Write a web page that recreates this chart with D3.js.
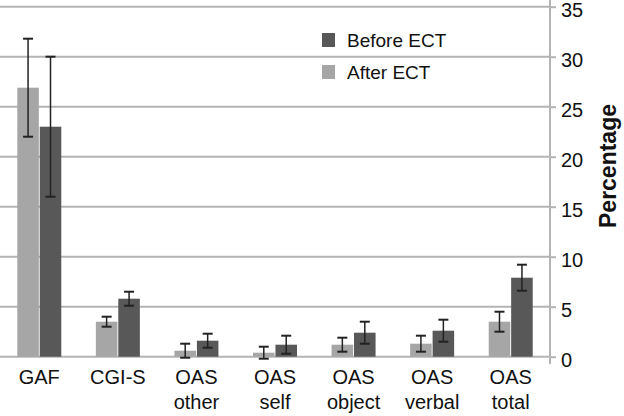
<!DOCTYPE html>
<html lang="en">
<head>
    <meta charset="UTF-8">
    <title>ECT bars</title>
    <script src="https://d3js.org/d3.v7.min.js"></script>
    <style>
        body { margin: 0; background: #fff; }
        text { font-family: 'Liberation Sans', Arial, sans-serif; fill: #111; }
    </style>
</head>
<body>
<script>
    const width  = 624;
    const height = 416;

    const categories = [["GAF"], ["CGI-S"], ["OAS", "other"], ["OAS", "self"], ["OAS", "object"], ["OAS", "verbal"], ["OAS", "total"]];
    const afterValues  = [26.9, 3.5, 0.6, 0.4, 1.2, 1.3, 3.5];
    const afterErrors  = [4.9, 0.5, 0.7, 0.6, 0.7, 0.8, 1.0];
    const beforeValues = [23.0, 5.8, 1.6, 1.2, 2.4, 2.6, 7.9];
    const beforeErrors = [7.0, 0.7, 0.7, 0.9, 1.1, 1.1, 1.3];
    const yTicks = [0, 5, 10, 15, 20, 25, 30, 35];

    const lightGrey = "#a6a6a6";
    const darkGrey  = "#585858";

    const svg = d3.select("body").append("svg").attr("width", width).attr("height", height);

    const x = d3.scaleBand()
                .domain(d3.range(categories.length))
                .range([0, 550])
                .paddingInner(0.44)
                .paddingOuter(0.22);

    const sub = d3.scaleBand()
                .domain(["after", "before"])
                .range([0, x.bandwidth()])
                .paddingInner(0.04);

    const y = d3.scaleLinear()
                .domain([0, 35])
                .range([356.7, 6.7]);

    // gridlines
    svg.selectAll(".grid")
        .data(yTicks)
        .enter().append("line")
        .attr("x1", 0).attr("x2", 550)
        .attr("y1", d => y(d)).attr("y2", d => y(d))
        .attr("stroke", "#b4b4b4")
        .attr("stroke-width", 2);

    // right axis
    const axis = svg.append("g")
        .attr("transform", "translate(550,0)")
        .call(d3.axisRight(y).tickValues(yTicks).tickSize(6).tickPadding(5));
    axis.select(".domain").attr("stroke", "#b4b4b4").attr("stroke-width", 2)
        .attr("d", "M0,0V364");
    axis.selectAll(".tick line").attr("stroke", "#b4b4b4").attr("stroke-width", 2);
    axis.selectAll(".tick text").attr("font-size", 20).attr("fill", "#111")
        .attr("dy", "0.5em")
        .attr("font-family", "'Liberation Sans', Arial, sans-serif");

    svg.append("text")
        .attr("transform", "translate(616,166) rotate(-90)")
        .attr("text-anchor", "middle")
        .attr("font-size", 23)
        .attr("font-weight", "bold")
        .text("Percentage");

    const series = [
        {key: "after",  values: afterValues,  errors: afterErrors,  color: lightGrey},
        {key: "before", values: beforeValues, errors: beforeErrors, color: darkGrey}
    ];

    series.forEach(s => {
        const g = svg.append("g");
        g.selectAll("rect")
            .data(s.values)
            .enter().append("rect")
            .attr("x", (d, i) => x(i) + sub(s.key))
            .attr("width", sub.bandwidth())
            .attr("y", d => y(d))
            .attr("height", d => y(0) - y(d))
            .attr("fill", s.color);

        const eb = g.selectAll(".err")
            .data(s.values)
            .enter().append("g")
            .attr("transform", (d, i) => "translate(" + [x(i) + sub(s.key) + sub.bandwidth() / 2, 0] + ")");
        eb.append("line")
            .attr("y1", (d, i) => y(d + s.errors[i]))
            .attr("y2", (d, i) => y(d - s.errors[i]))
            .attr("stroke", "#222").attr("stroke-width", 1.5);
        [1, -1].forEach(sign => {
            eb.append("line")
                .attr("x1", -5).attr("x2", 5)
                .attr("y1", (d, i) => y(d + sign * s.errors[i]))
                .attr("y2", (d, i) => y(d + sign * s.errors[i]))
                .attr("stroke", "#222").attr("stroke-width", 2);
        });
    });

    // category labels
    const labels = svg.selectAll(".cat")
        .data(categories)
        .enter().append("text")
        .attr("text-anchor", "middle")
        .attr("font-size", 20)
        .attr("transform", (d, i) => "translate(" + [x(i) + x.bandwidth() / 2, 384] + ")");
    labels.selectAll("tspan")
        .data(d => d)
        .enter().append("tspan")
        .attr("x", 0)
        .attr("dy", (d, i) => i === 0 ? 0 : 25)
        .text(d => d);

    // legend
    const legend = [["Before ECT", darkGrey], ["After ECT", lightGrey]];
    const lg = svg.selectAll(".legend")
        .data(legend)
        .enter().append("g")
        .attr("transform", (d, i) => "translate(" + [322, 33 + i * 32] + ")");
    lg.append("rect").attr("width", 13).attr("height", 14).attr("fill", d => d[1]);
    lg.append("text").attr("x", 25).attr("y", 14).attr("font-size", 19).text(d => d[0]);
</script>
</body>
</html>
